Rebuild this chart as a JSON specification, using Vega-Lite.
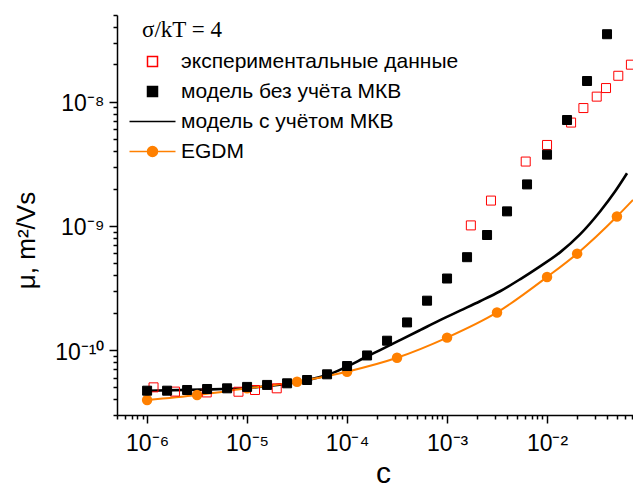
{
  "$schema": "https://vega.github.io/schema/vega-lite/v6.json",
  "width": 516,
  "height": 400,
  "autosize": {"type": "none"},
  "padding": {"left": 117, "top": 15, "right": 0, "bottom": 76},
  "background": "white",
  "config": {"view": {"stroke": null}, "font": "Liberation Sans"},
  "datasets": {
    "squares": [
      {"series": "экспериментальные данные", "c": 1.16e-6, "mu": 5.01e-11},
      {"series": "экспериментальные данные", "c": 1.9e-6, "mu": 4.63e-11},
      {"series": "экспериментальные данные", "c": 3.95e-6, "mu": 4.56e-11},
      {"series": "экспериментальные данные", "c": 8.2e-6, "mu": 4.62e-11},
      {"series": "экспериментальные данные", "c": 1.2e-5, "mu": 4.77e-11},
      {"series": "экспериментальные данные", "c": 1.98e-5, "mu": 4.92e-11},
      {"series": "экспериментальные данные", "c": 1.73e-3, "mu": 1.01e-9},
      {"series": "экспериментальные данные", "c": 2.75e-3, "mu": 1.6e-9},
      {"series": "экспериментальные данные", "c": 6.12e-3, "mu": 3.3e-9},
      {"series": "экспериментальные данные", "c": 1.0e-2, "mu": 4.49e-9},
      {"series": "экспериментальные данные", "c": 1.74e-2, "mu": 6.8e-9},
      {"series": "экспериментальные данные", "c": 2.31e-2, "mu": 8.9e-9},
      {"series": "экспериментальные данные", "c": 3.14e-2, "mu": 1.1e-8},
      {"series": "экспериментальные данные", "c": 3.89e-2, "mu": 1.29e-8},
      {"series": "экспериментальные данные", "c": 5.16e-2, "mu": 1.62e-8},
      {"series": "экспериментальные данные", "c": 6.9e-2, "mu": 1.99e-8},
      {"series": "модель без учёта МКВ", "c": 1e-6, "mu": 4.71e-11},
      {"series": "модель без учёта МКВ", "c": 1.585e-6, "mu": 4.71e-11},
      {"series": "модель без учёта МКВ", "c": 2.512e-6, "mu": 4.77e-11},
      {"series": "модель без учёта МКВ", "c": 3.981e-6, "mu": 4.86e-11},
      {"series": "модель без учёта МКВ", "c": 6.31e-6, "mu": 4.92e-11},
      {"series": "модель без учёта МКВ", "c": 1e-5, "mu": 5.05e-11},
      {"series": "модель без учёта МКВ", "c": 1.585e-5, "mu": 5.24e-11},
      {"series": "модель без учёта МКВ", "c": 2.512e-5, "mu": 5.4e-11},
      {"series": "модель без учёта МКВ", "c": 3.981e-5, "mu": 5.74e-11},
      {"series": "модель без учёта МКВ", "c": 6.31e-5, "mu": 6.38e-11},
      {"series": "модель без учёта МКВ", "c": 1e-4, "mu": 7.44e-11},
      {"series": "модель без учёта МКВ", "c": 1.585e-4, "mu": 9.05e-11},
      {"series": "модель без учёта МКВ", "c": 2.512e-4, "mu": 1.19e-10},
      {"series": "модель без учёта МКВ", "c": 3.981e-4, "mu": 1.67e-10},
      {"series": "модель без учёта МКВ", "c": 6.31e-4, "mu": 2.5e-10},
      {"series": "модель без учёта МКВ", "c": 1e-3, "mu": 3.77e-10},
      {"series": "модель без учёта МКВ", "c": 1.585e-3, "mu": 5.6e-10},
      {"series": "модель без учёта МКВ", "c": 2.512e-3, "mu": 8.45e-10},
      {"series": "модель без учёта МКВ", "c": 3.981e-3, "mu": 1.31e-9},
      {"series": "модель без учёта МКВ", "c": 6.31e-3, "mu": 2.16e-9},
      {"series": "модель без учёта МКВ", "c": 1e-2, "mu": 3.75e-9},
      {"series": "модель без учёта МКВ", "c": 1.585e-2, "mu": 7.13e-9},
      {"series": "модель без учёта МКВ", "c": 2.512e-2, "mu": 1.47e-8},
      {"series": "модель без учёта МКВ", "c": 3.981e-2, "mu": 3.5e-8}
    ],
    "curves": [
      {"series": "модель с учётом МКВ", "c": 1e-6, "mu": 4.71e-11, "marker": false},
      {"series": "модель с учётом МКВ", "c": 3.39e-6, "mu": 4.8e-11, "marker": false},
      {"series": "модель с учётом МКВ", "c": 1e-5, "mu": 4.95e-11, "marker": false},
      {"series": "модель с учётом МКВ", "c": 3.16e-5, "mu": 5.53e-11, "marker": false},
      {"series": "модель с учётом МКВ", "c": 6.76e-5, "mu": 6.41e-11, "marker": false},
      {"series": "модель с учётом МКВ", "c": 1.072e-4, "mu": 7.57e-11, "marker": false},
      {"series": "модель с учётом МКВ", "c": 1.445e-4, "mu": 8.55e-11, "marker": false},
      {"series": "модель с учётом МКВ", "c": 2.138e-4, "mu": 1.0e-10, "marker": false},
      {"series": "модель с учётом МКВ", "c": 3.39e-4, "mu": 1.203e-10, "marker": false},
      {"series": "модель с учётом МКВ", "c": 5.37e-4, "mu": 1.447e-10, "marker": false},
      {"series": "модель с учётом МКВ", "c": 8.51e-4, "mu": 1.741e-10, "marker": false},
      {"series": "модель с учётом МКВ", "c": 1.349e-3, "mu": 2.076e-10, "marker": false},
      {"series": "модель с учётом МКВ", "c": 2.138e-3, "mu": 2.474e-10, "marker": false},
      {"series": "модель с учётом МКВ", "c": 3.39e-3, "mu": 2.978e-10, "marker": false},
      {"series": "модель с учётом МКВ", "c": 5.37e-3, "mu": 3.718e-10, "marker": false},
      {"series": "модель с учётом МКВ", "c": 8.51e-3, "mu": 4.727e-10, "marker": false},
      {"series": "модель с учётом МКВ", "c": 1.349e-2, "mu": 6.124e-10, "marker": false},
      {"series": "модель с учётом МКВ", "c": 2.138e-2, "mu": 8.546e-10, "marker": false},
      {"series": "модель с учётом МКВ", "c": 3.39e-2, "mu": 1.307e-9, "marker": false},
      {"series": "модель с учётом МКВ", "c": 4.786e-2, "mu": 1.892e-9, "marker": false},
      {"series": "модель с учётом МКВ", "c": 6.31e-2, "mu": 2.655e-9, "marker": false},
      {"series": "EGDM", "c": 1e-6, "mu": 3.96e-11, "marker": true},
      {"series": "EGDM", "c": 3.16e-6, "mu": 4.35e-11, "marker": true},
      {"series": "EGDM", "c": 1e-5, "mu": 4.92e-11, "marker": true},
      {"series": "EGDM", "c": 3.16e-5, "mu": 5.56e-11, "marker": true},
      {"series": "EGDM", "c": 1e-4, "mu": 6.7e-11, "marker": true},
      {"series": "EGDM", "c": 3.16e-4, "mu": 8.67e-11, "marker": true},
      {"series": "EGDM", "c": 1e-3, "mu": 1.26e-10, "marker": true},
      {"series": "EGDM", "c": 3.16e-3, "mu": 2.01e-10, "marker": true},
      {"series": "EGDM", "c": 1e-2, "mu": 3.88e-10, "marker": true},
      {"series": "EGDM", "c": 2e-2, "mu": 5.98e-10, "marker": true},
      {"series": "EGDM", "c": 5e-2, "mu": 1.19e-9, "marker": true},
      {"series": "EGDM", "c": 7.24e-2, "mu": 1.62e-9, "marker": false}
    ]
  },
  "layer": [
    {
      "data": {"name": "curves"},
      "mark": {"type": "line", "interpolate": "monotone", "clip": true},
      "encoding": {
        "x": {"field": "c", "type": "quantitative"},
        "y": {"field": "mu", "type": "quantitative"},
        "detail": {"field": "series"},
        "stroke": {"field": "series", "type": "nominal"},
        "strokeWidth": {"condition": {"test": "datum.series === 'EGDM'", "value": 2}, "value": 2.6}
      }
    },
    {
      "data": {"name": "curves"},
      "transform": [{"filter": "datum.marker"}],
      "mark": {"type": "point", "shape": "circle", "filled": true, "size": 110, "color": "#FF8000", "opacity": 1},
      "encoding": {
        "x": {"field": "c", "type": "quantitative"},
        "y": {"field": "mu", "type": "quantitative"}
      }
    },
    {
      "data": {"name": "squares"},
      "mark": {"type": "point", "size": 81, "strokeWidth": 1, "opacity": 1, "clip": true},
      "encoding": {
        "x": {
          "field": "c", "type": "quantitative",
          "scale": {"type": "log", "domain": [5e-7, 0.0724], "nice": false},
          "axis": {
            "title": "c", "titleFont": "Liberation Sans", "titleFontSize": 30, "titleFontWeight": "normal", "titleColor": "black",
            "titleX": 266, "titleY": 67, "titleBaseline": "alphabetic", "titleAlign": "center",
            "values": [5e-7, 6e-7, 7e-7, 8e-7, 9e-7, 1e-6, 2e-6, 3e-6, 4e-6, 5e-6, 6e-6, 7e-6, 8e-6, 9e-6, 1e-5, 2e-5, 3e-5, 4e-5, 5e-5, 6e-5, 7e-5, 8e-5, 9e-5, 1e-4, 2e-4, 3e-4, 4e-4, 5e-4, 6e-4, 7e-4, 8e-4, 9e-4, 1e-3, 2e-3, 3e-3, 4e-3, 5e-3, 6e-3, 7e-3, 8e-3, 9e-3, 1e-2, 2e-2, 3e-2, 4e-2, 5e-2, 6e-2, 7e-2],
            "labelExpr": "abs(log(datum.value)/LN10 - round(log(datum.value)/LN10)) < 0.001 ? '10⁻' + ['⁰','¹','²','³','⁴','⁵','⁶','⁷','⁸','⁹','¹⁰','¹¹','¹²'][-round(log(datum.value)/LN10)] : ''",
            "tickSize": {"condition": {"test": "abs(log(datum.value)/LN10 - round(log(datum.value)/LN10)) < 0.001", "value": 8}, "value": 4},
            "tickColor": "black", "tickWidth": 1.5, "domainColor": "black", "domainWidth": 1.5,
            "labelFont": "Liberation Sans", "labelFontSize": 23, "labelColor": "black", "labelPadding": 9,
            "labelOverlap": false, "labelFlush": false, "labelBound": false, "grid": false
          }
        },
        "y": {
          "field": "mu", "type": "quantitative",
          "scale": {"type": "log", "domain": [3e-11, 5e-8], "nice": false},
          "axis": {
            "title": "μ, m²/Vs", "titleFont": "Liberation Sans", "titleFontSize": 26, "titleFontWeight": "normal", "titleColor": "black",
            "titleAngle": 270, "titleX": -83, "titleY": 225, "titleBaseline": "alphabetic", "titleAlign": "center",
            "values": [3e-11, 4e-11, 5e-11, 6e-11, 7e-11, 8e-11, 9e-11, 1e-10, 2e-10, 3e-10, 4e-10, 5e-10, 6e-10, 7e-10, 8e-10, 9e-10, 1e-9, 2e-9, 3e-9, 4e-9, 5e-9, 6e-9, 7e-9, 8e-9, 9e-9, 1e-8, 2e-8, 3e-8, 4e-8, 5e-8],
            "labelExpr": "abs(log(datum.value)/LN10 - round(log(datum.value)/LN10)) < 0.001 ? '10⁻' + ['⁰','¹','²','³','⁴','⁵','⁶','⁷','⁸','⁹','¹⁰','¹¹','¹²'][-round(log(datum.value)/LN10)] : ''",
            "tickSize": {"condition": {"test": "abs(log(datum.value)/LN10 - round(log(datum.value)/LN10)) < 0.001", "value": 8}, "value": 4},
            "tickColor": "black", "tickWidth": 1.5, "domainColor": "black", "domainWidth": 1.5,
            "labelFont": "Liberation Sans", "labelFontSize": 23, "labelColor": "black", "labelPadding": 5, "labelOffset": 2,
            "labelOverlap": false, "labelBound": false, "labelFlush": false, "grid": false
          }
        },
        "shape": {
          "field": "series", "type": "nominal",
          "scale": {
            "domain": ["экспериментальные данные", "модель без учёта МКВ", "модель с учётом МКВ", "EGDM"],
            "range": ["M-1,-1H1V1H-1Z", "M-1,-1H1V1H-1Z", "M-4.6,0H4.6", "M-4.6,0H4.6M-1,0A1,1,0,1,0,1,0A1,1,0,1,0,-1,0Z"]
          },
          "legend": {
            "title": "\u00a0σ/kT = 4", "orient": "none", "legendX": 25, "legendY": 4,
            "titleFont": "Liberation Serif", "titleFontSize": 23, "titleFontWeight": "normal", "titleColor": "black", "titlePadding": 9,
            "labelFont": "Liberation Sans", "labelFontSize": 21, "labelColor": "black", "labelOffset": 18, "labelLimit": 0,
            "symbolSize": 100, "rowPadding": 8, "padding": 0,
            "encode": {
              "symbols": {
                "update": {
                  "fill": {"scale": "fill", "field": "value"},
                  "stroke": {"scale": "stroke", "field": "value"},
                  "shape": {"scale": "shape", "field": "value"},
                  "strokeWidth": {"signal": "datum.value === 'модель с учётом МКВ' ? 2.6 : datum.value === 'EGDM' ? 2 : 1"},
                  "opacity": {"value": 1}
                }
              }
            }
          }
        },
        "fill": {
          "field": "series", "type": "nominal",
          "scale": {
            "domain": ["экспериментальные данные", "модель без учёта МКВ", "модель с учётом МКВ", "EGDM"],
            "range": ["transparent", "black", "transparent", "#FF8000"]
          }
        },
        "stroke": {
          "field": "series", "type": "nominal",
          "scale": {
            "domain": ["экспериментальные данные", "модель без учёта МКВ", "модель с учётом МКВ", "EGDM"],
            "range": ["#FF0000", "black", "black", "#FF8000"]
          }
        }
      }
    }
  ]
}
